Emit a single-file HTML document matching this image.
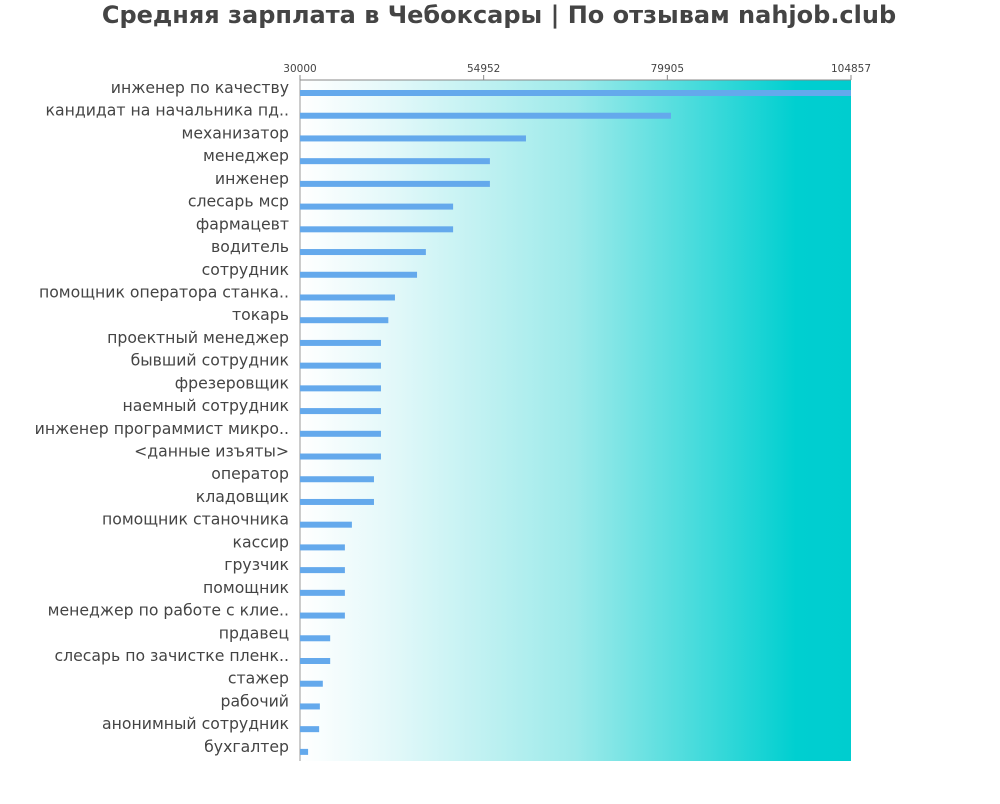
<!DOCTYPE html>
<html><head><meta charset="utf-8"><style>
body{margin:0;background:#fff;font-family:"DejaVu Sans","Liberation Sans",sans-serif}
</style></head><body>
<svg width="1000" height="800" xmlns="http://www.w3.org/2000/svg">
<defs><linearGradient id="g" x1="0" x2="1" y1="0" y2="0">
<stop offset="0" stop-color="#ffffff"/><stop offset="0.15" stop-color="#e6f9fa"/><stop offset="0.5" stop-color="#9deaea"/><stop offset="0.9" stop-color="#00cfd0"/><stop offset="1" stop-color="#00cdcf"/></linearGradient></defs>
<text x="499" y="23" text-anchor="middle" font-size="24" font-weight="bold" fill="#444">Средняя зарплата в Чебоксары | По отзывам nahjob.club</text>
<rect x="300" y="80" width="551" height="681" fill="url(#g)"/>
<line x1="300" y1="80" x2="851" y2="80" stroke="#888"/>
<line x1="300" y1="80" x2="300" y2="761" stroke="#999"/>
<g id="ticks"></g><g id="bars"></g><g id="labels"></g>
</svg>
<script>
const categories=["инженер по качеству","кандидат на начальника пд..","механизатор","менеджер","инженер","слесарь мср","фармацевт","водитель","сотрудник","помощник оператора станка..","токарь","проектный менеджер","бывший сотрудник","фрезеровщик","наемный сотрудник","инженер программист микро..","<данные изъяты>","оператор","кладовщик","помощник станочника","кассир","грузчик","помощник","менеджер по работе с клие..","прдавец","слесарь по зачистке пленк..","стажер","рабочий","анонимный сотрудник","бухгалтер"];
const values=[104857,80400,60700,55800,55800,50800,50800,47100,45900,42900,42000,41000,41000,41000,41000,41000,41000,40050,40050,37050,36100,36100,36100,36100,34100,34100,33100,32700,32600,31100];
const tickValues=[30000,54952,79905,104857];
const NS="http://www.w3.org/2000/svg";
const x=v=>300+(v-30000)*551/74857;
const y=i=>93+i*22.72;
const tg=document.getElementById('ticks'),bg=document.getElementById('bars'),lg=document.getElementById('labels');
tickValues.forEach(t=>{
 const l=document.createElementNS(NS,'line');
 
 
 l.setAttribute('x1',x(t));l.setAttribute('x2',x(t));l.setAttribute('y1',75);l.setAttribute('y2',80);l.setAttribute('stroke','#888');tg.appendChild(l);
 const tx=document.createElementNS(NS,'text');
 
 
 tx.setAttribute('x',x(t));tx.setAttribute('y',72);tx.setAttribute('text-anchor','middle');tx.setAttribute('font-size','10.5');tx.setAttribute('fill','#444');tx.textContent=t;tg.appendChild(tx);
});
categories.forEach((c,i)=>{
 const r=document.createElementNS(NS,'rect');
 
 
 r.setAttribute('x',300);r.setAttribute('y',y(i)-3);r.setAttribute('width',x(values[i])-300);r.setAttribute('height',6);r.setAttribute('fill','#64a9ec');bg.appendChild(r);
 const t=document.createElementNS(NS,'text');
 
 
 t.setAttribute('x',289);t.setAttribute('y',y(i));t.setAttribute('text-anchor','end');t.setAttribute('font-size','15.7');t.setAttribute('fill','#444');t.textContent=c;lg.appendChild(t);
});
</script>
</body></html>
